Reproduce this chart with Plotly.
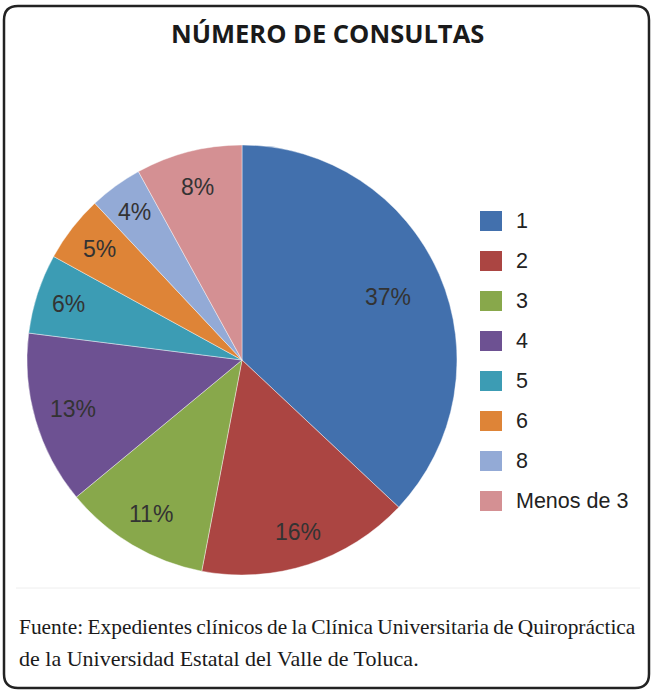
import math
import plotly.graph_objects as go

# ---- data ----
categories = ["1", "2", "3", "4", "5", "6", "8", "Menos de 3"]
values = [37, 16, 11, 13, 6, 5, 4, 8]
colors = ["#4270AD", "#AB4542", "#88A84B", "#6D5192", "#3C9CB4", "#DE8437", "#93AAD6", "#D49093"]

title_text = "NÚMERO DE CONSULTAS"
source_lines = ["Fuente: Expedientes clínicos de la Clínica Universitaria de Quiropráctica",
                "de la Universidad Estatal del Valle de Toluca."]

W, H = 653, 692

# pie geometry (pixels)
cx, cy, R = 242, 360, 215

def px(x):
    return x / W

def py(y):
    return (H - y) / H

fig = go.Figure()
fig.add_trace(go.Pie(
    labels=categories,
    values=values,
    sort=False,
    direction="clockwise",
    rotation=0,
    textinfo="none",
    hoverinfo="label+percent",
    marker=dict(colors=colors, line=dict(color="rgba(255,255,255,0.6)", width=0.7)),
    domain=dict(x=[px(cx - R), px(cx + R)], y=[py(cy + R), py(cy - R)]),
    showlegend=False,
))

annotations = []
shapes = []

# percentage labels computed from data
total = sum(values)
cum = 0
label_r = [0.74, 0.84, 0.83, 0.82, 0.85, 0.84, 0.85, 0.83]
for i, v in enumerate(values):
    mid = (cum + v / 2) / total * 2 * math.pi
    cum += v
    r = R * label_r[i]
    x = cx + r * math.sin(mid)
    y = cy - r * math.cos(mid)
    pct = round(v / total * 100)
    annotations.append(dict(x=px(x), y=py(y), xref="paper", yref="paper",
                            text=f"{pct}%", showarrow=False,
                            font=dict(family="Liberation Sans", size=23, color="#333333"),
                            xanchor="center", yanchor="middle"))

# manual legend
for i, (c, col) in enumerate(zip(categories, colors)):
    yc = 221 + 40 * i
    shapes.append(dict(type="rect", xref="paper", yref="paper",
                       x0=px(480), x1=px(502), y0=py(yc + 10), y1=py(yc - 10),
                       fillcolor=col, line=dict(width=0)))
    annotations.append(dict(x=px(514), y=py(yc), xref="paper", yref="paper",
                            text=c, showarrow=False, xanchor="left", yanchor="middle",
                            font=dict(family="Liberation Sans", size=21.5, color="#222222")))

# title
annotations.append(dict(x=px(328), y=py(33), xref="paper", yref="paper",
                        text=f"<b>{title_text}</b>", showarrow=False,
                        xanchor="center", yanchor="middle",
                        font=dict(family="Open Sans", size=25.5, color="#1A1A1A")))

# source text (first line set tight, as in the original justified layout)
for j, line in enumerate(source_lines):
    txt = line.replace(" ", "\u2009") if j == 0 else line
    annotations.append(dict(x=px(17), y=py(627 + 31 * j), xref="paper", yref="paper",
                            text=txt, showarrow=False, xanchor="left", yanchor="middle",
                            font=dict(family="Liberation Serif", size=21.4 if j == 0 else 22,
                                      color="#1A1A1A")))

# faint separator line
shapes.append(dict(type="line", xref="paper", yref="paper",
                   x0=px(16), x1=px(640), y0=py(588), y1=py(588),
                   line=dict(color="#EEEEEE", width=1)))

# rounded border
x0, x1, y0, y1, rr = 4, 649, 6, 688, 14
def P(x, y):
    return f"{px(x):.5f},{py(y):.5f}"
path = (f"M {P(x0 + rr, y0)} L {P(x1 - rr, y0)} Q {P(x1, y0)} {P(x1, y0 + rr)} "
        f"L {P(x1, y1 - rr)} Q {P(x1, y1)} {P(x1 - rr, y1)} "
        f"L {P(x0 + rr, y1)} Q {P(x0, y1)} {P(x0, y1 - rr)} "
        f"L {P(x0, y0 + rr)} Q {P(x0, y0)} {P(x0 + rr, y0)} Z")
shapes.append(dict(type="path", xref="paper", yref="paper", path=path,
                   line=dict(color="#222222", width=2.5)))

fig.update_layout(
    width=W, height=H,
    margin=dict(l=0, r=0, t=0, b=0),
    paper_bgcolor="white", plot_bgcolor="white",
    annotations=annotations, shapes=shapes,
    showlegend=False,
)

fig.write_html("out.html", config={"displayModeBar": False},
               post_script="document.body.style.margin='0';document.body.style.overflow='hidden';")
